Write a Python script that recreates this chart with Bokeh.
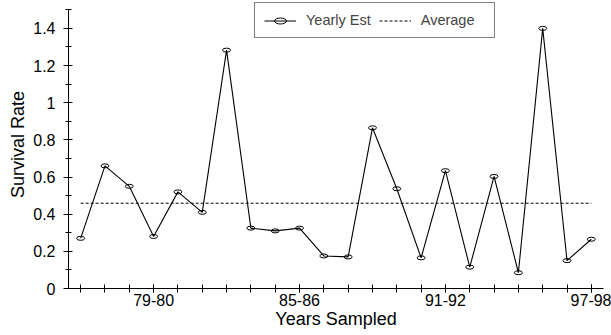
from bokeh.plotting import figure
from bokeh.models import (Range1d, FixedTicker, Legend, LegendItem,
                          ColumnDataSource)
from bokeh.embed import file_html
from bokeh.resources import INLINE

# Sampling seasons and yearly survival estimates
seasons = ["76-77", "77-78", "78-79", "79-80", "80-81", "81-82", "82-83",
           "83-84", "84-85", "85-86", "86-87", "87-88", "88-89", "89-90",
           "90-91", "91-92", "92-93", "93-94", "94-95", "95-96", "96-97",
           "97-98"]
survival = [0.27, 0.66, 0.55, 0.28, 0.52, 0.41, 1.283, 0.325, 0.31, 0.325,
            0.175, 0.17, 0.865, 0.537, 0.165, 0.634, 0.115, 0.603, 0.085,
            1.40, 0.15, 0.265]
labelled_seasons = ["79-80", "85-86", "91-92", "97-98"]
y_ticks = [0, 0.2, 0.4, 0.6, 0.8, 1.0, 1.2, 1.4]
y_minor = [round(0.1 * i, 1) for i in range(16)]

average = sum(survival) / len(survival)

FONT = "Liberation Sans"

idx = list(range(len(seasons)))
src = ColumnDataSource(dict(x=idx, y=survival))

p = figure(width=611, height=335, output_backend="svg", toolbar_location=None,
           x_range=Range1d(-0.5, len(seasons) - 0.5), y_range=Range1d(0, 1.55),
           min_border_left=68, min_border_right=8, min_border_top=0,
           min_border_bottom=47)
p.outline_line_color = None
p.xgrid.visible = False
p.ygrid.visible = False
p.background_fill_color = "white"
p.border_fill_color = "white"

# average reference line across the sampled years
avg_r = p.line([idx[0], idx[-1]], [average, average], line_color="black",
               line_width=1, line_dash="3 2")

line_r = p.line("x", "y", source=src, line_color="black", line_width=1.1)
ell_r = p.ellipse("x", "y", source=src, width=8, height=4,
                  width_units="screen", height_units="screen",
                  fill_alpha=0, line_color="black", line_width=1)

# x axis: a tick per season, labels on every sixth
xa = p.xaxis[0]
pos = [seasons.index(s) for s in labelled_seasons]
xa.ticker = FixedTicker(ticks=pos, minor_ticks=idx)
xa.major_label_overrides = {i: seasons[i] for i in pos}
xa.axis_label = "Years Sampled"
xa.major_tick_in = 4
xa.major_tick_out = 4
xa.minor_tick_in = 4
xa.minor_tick_out = 4
xa.major_label_standoff = 1
xa.axis_label_standoff = 0

ya = p.yaxis[0]
ya.ticker = FixedTicker(ticks=y_ticks, minor_ticks=y_minor)
ya.major_label_overrides = {v: f"{v:g}" for v in y_ticks}
ya.axis_label = "Survival Rate"
ya.bounds = (0, 1.5)
ya.major_tick_in = 4
ya.major_tick_out = 5
ya.minor_tick_in = 3
ya.minor_tick_out = 3
ya.major_label_standoff = 8
ya.axis_label_standoff = 2

for ax in (xa, ya):
    ax.axis_line_color = "black"
    ax.major_tick_line_color = "black"
    ax.minor_tick_line_color = "black"
    ax.major_label_text_font = FONT
    ax.major_label_text_font_size = "16px"
    ax.major_label_text_color = "black"
    ax.axis_label_text_font = FONT
    ax.axis_label_text_font_size = "18px"
    ax.axis_label_text_font_style = "normal"
    ax.axis_label_text_color = "black"

legend = Legend(items=[LegendItem(label="Yearly Est", renderers=[line_r, ell_r]),
                       LegendItem(label="Average", renderers=[avg_r])],
                orientation="horizontal", location=(186, 250),
                glyph_width=32, glyph_height=15, label_height=15,
                label_width=64, label_standoff=10, spacing=8, padding=9,
                margin=0, label_text_font=FONT, label_text_font_size="14.5px",
                border_line_color="black", border_line_width=1,
                background_fill_color="white", background_fill_alpha=1)
p.add_layout(legend, "center")

open("out.html", "w").write(file_html(p, INLINE))
